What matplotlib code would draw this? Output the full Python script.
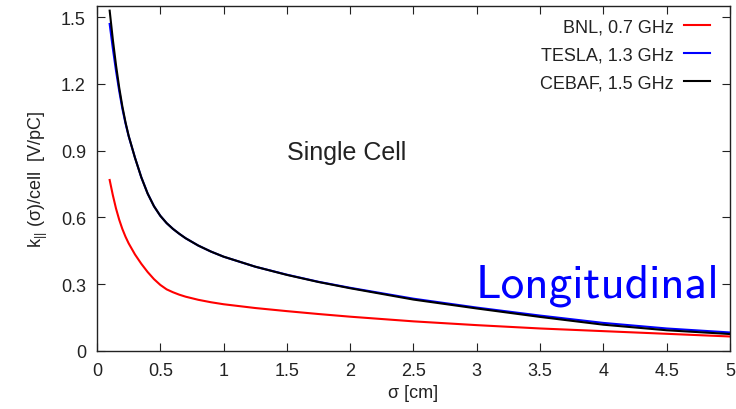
import matplotlib
matplotlib.use("Agg")
import matplotlib.pyplot as plt
from matplotlib.font_manager import FontProperties
from matplotlib.ticker import FormatStrFormatter
import os

plt.rcParams['font.family'] = ['Liberation Sans', 'DejaVu Sans']
plt.rcParams['mathtext.fontset'] = 'custom'
plt.rcParams['mathtext.rm'] = 'Liberation Sans'
plt.rcParams['mathtext.it'] = 'Liberation Sans'

# sigma [cm]
sigma = [0.1, 0.125, 0.15, 0.175, 0.2, 0.225, 0.25, 0.3, 0.35, 0.4, 0.45, 0.5, 0.55, 0.6, 0.65, 0.7, 0.8,
         0.9, 1.0, 1.25, 1.5, 1.75, 2.0, 2.5, 3.0, 3.5, 4.0, 4.5, 5.0]
bnl = [0.768, 0.70, 0.64, 0.59, 0.548, 0.513, 0.483, 0.433, 0.391, 0.354, 0.322, 0.296, 0.276, 0.263, 0.252,
       0.243, 0.229, 0.218, 0.209, 0.192, 0.178, 0.165, 0.153, 0.132, 0.115, 0.10, 0.088, 0.076, 0.064]
tesla = [1.47, 1.36, 1.26, 1.17, 1.09, 1.023, 0.965, 0.868, 0.78, 0.707, 0.65, 0.607, 0.574, 0.548, 0.526,
         0.506, 0.473, 0.446, 0.423, 0.378, 0.342, 0.31, 0.283, 0.234, 0.194, 0.158, 0.125, 0.10, 0.082]
cebaf = [1.53, 1.40, 1.285, 1.185, 1.10, 1.028, 0.967, 0.868, 0.78, 0.707, 0.65, 0.607, 0.574, 0.548, 0.526,
         0.506, 0.473, 0.446, 0.423, 0.378, 0.341, 0.309, 0.281, 0.230, 0.19, 0.152, 0.117, 0.092, 0.075]
labels = ["BNL, 0.7 GHz", "TESLA, 1.3 GHz", "CEBAF, 1.5 GHz"]
colors = ["#ff0000", "#0000ff", "#000000"]

fig = plt.figure(figsize=(7.36, 4.10), dpi=100)
ax = fig.add_axes([0.1318, 0.1422, 0.8600, 0.8408])

for y, lab, c in zip([bnl, tesla, cebaf], labels, colors):
    ax.plot(sigma, y, color=c, lw=1.5, label=lab)

ax.set_xlim(0, 5)
ax.set_ylim(0, 1.551)
ax.set_xticks([0, 0.5, 1, 1.5, 2, 2.5, 3, 3.5, 4, 4.5, 5])
ax.set_yticks([0, 0.3, 0.6, 0.9, 1.2, 1.5])
ax.xaxis.set_major_formatter(FormatStrFormatter('%g'))
ax.yaxis.set_major_formatter(FormatStrFormatter('%g'))
ax.tick_params(direction='in', top=True, right=True, length=6, width=0.8,
               labelsize=13, pad=8, colors='#222222', labelcolor='#222222')
for s in ax.spines.values():
    s.set_linewidth(1.0)
    s.set_color('#222222')

ax.set_xlabel('σ [cm]', fontsize=13, labelpad=4, color='#222222')
ax.set_ylabel(r'k$_{||}$ (σ)/cell  [V/pC]', fontsize=13, labelpad=8, color='#222222')

leg = ax.legend(loc='upper right', markerfirst=False, frameon=False, fontsize=13,
                handlelength=1.4, handletextpad=0.6, labelspacing=0.6,
                borderaxespad=0.2, bbox_to_anchor=(0.985, 0.995))
for t in leg.get_texts():
    t.set_color('#222222')

ax.text(1.97, 0.895, 'Single Cell', fontsize=18, ha='center', va='center', color='#222222')

cmss = os.path.join(matplotlib.get_data_path(), 'fonts', 'ttf', 'cmss10.ttf')
fp = FontProperties(fname=cmss, size=34)
ax.text(4.915, 0.245, 'Longitudinal', fontproperties=fp, color='#0000ff', ha='right', va='baseline')

fig.savefig('out.png', dpi=100)
